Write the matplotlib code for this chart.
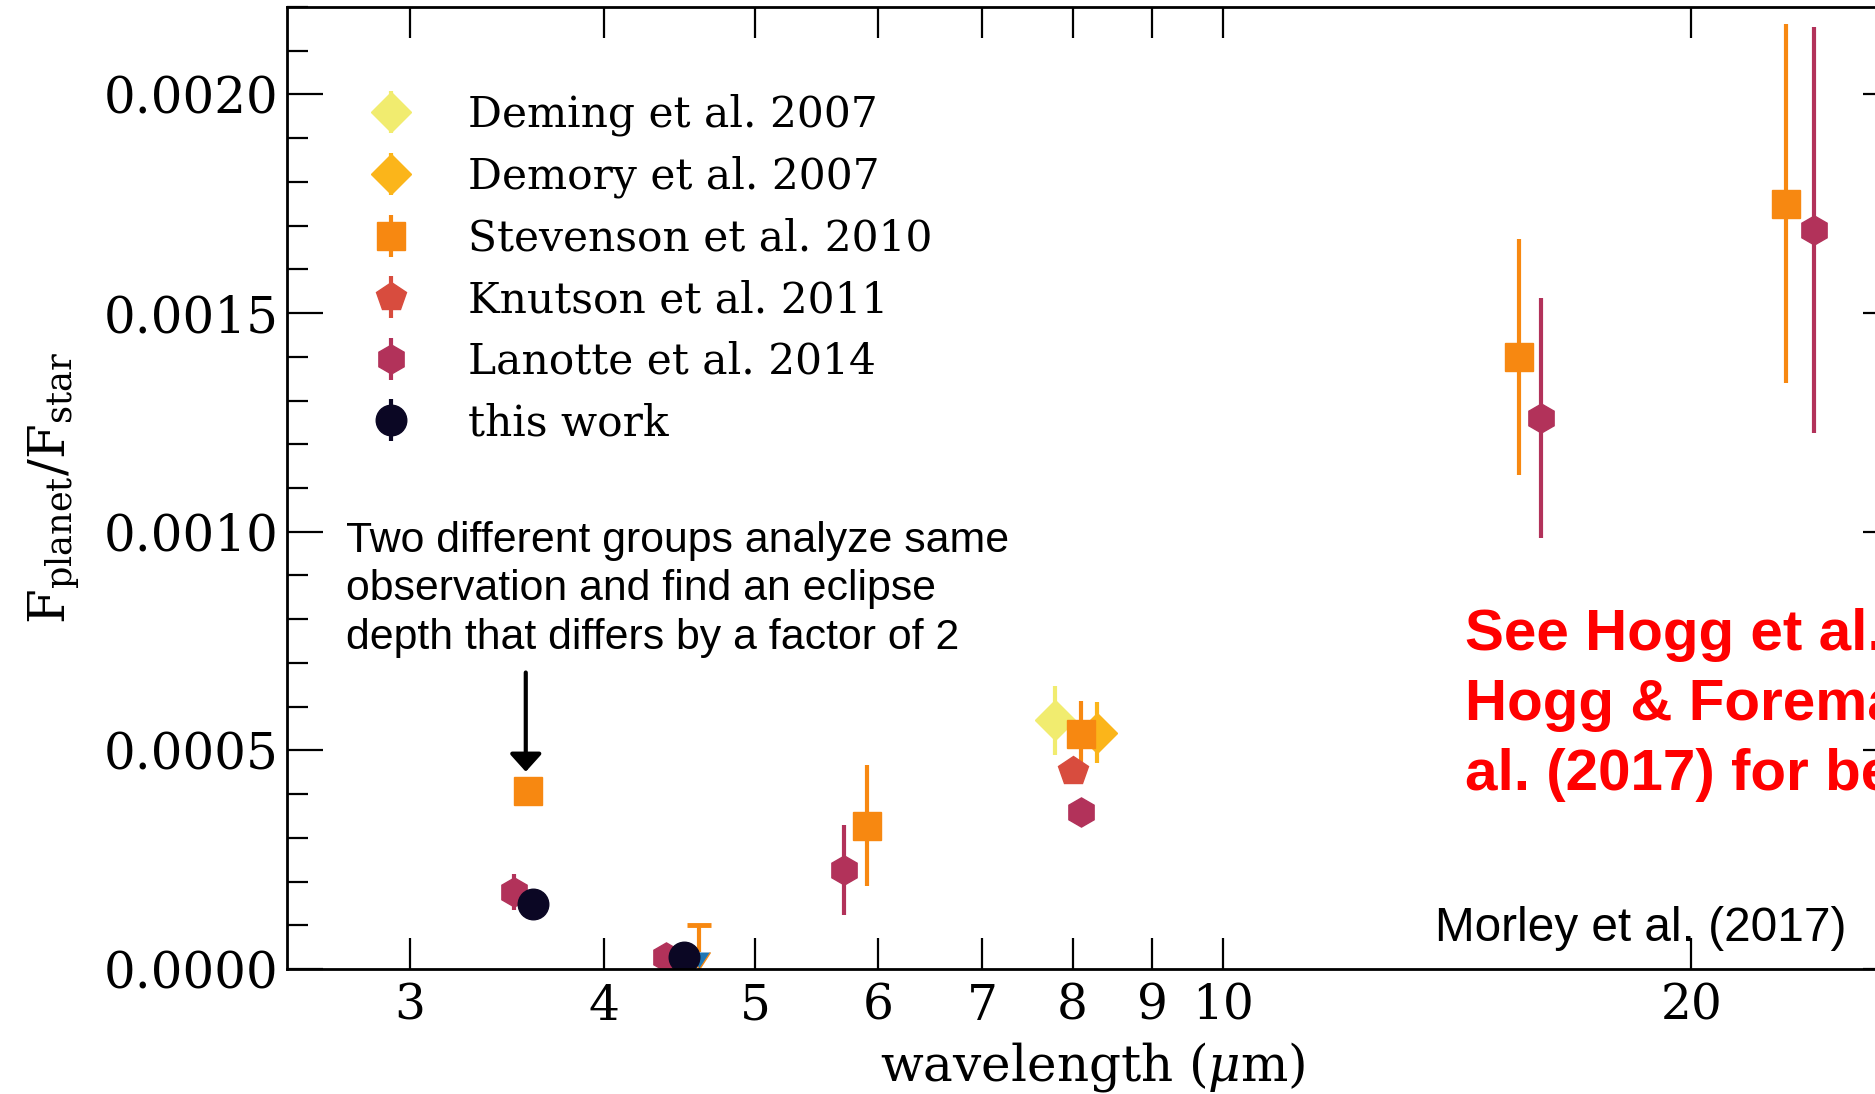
import matplotlib
matplotlib.use('Agg')
import matplotlib.pyplot as plt
from matplotlib.ticker import FixedLocator, MultipleLocator, NullLocator, FormatStrFormatter

plt.rcParams['font.family'] = 'DejaVu Serif'
plt.rcParams['mathtext.fontset'] = 'dejavuserif'

# eclipse depths of GJ 436b
deming_wl = [7.8]
deming_fp = [0.000569]
deming_err = [0.000079]

demory_wl = [8.29]
demory_fp = [0.000540]
demory_err = [0.000070]

stev_wl = [3.57, 5.90, 8.10, 15.5, 23.0]
stev_fp = [0.000408, 0.000328, 0.000538, 0.00140, 0.00175]
stev_err = [0.00003, 0.000139, 0.000075, 0.00027, 0.00041]

# Stevenson 4.5 micron upper limit
stev_lim_wl = [4.60]
stev_lim_fp = [0.000100]
stev_lim_err = [0.000061]

knut_wl = [8.0]
knut_fp = [0.000452]
knut_err = [0.00002]

lan_wl = [3.50, 4.38, 5.70, 8.10, 16.0, 24.0]
lan_fp = [0.000176, 0.000028, 0.000227, 0.000360, 0.00126, 0.00169]
lan_err = [0.000042, 0.00002, 0.000103, 0.00002, 0.000274, 0.000465]

this_wl = [3.60, 4.50]
this_fp = [0.000149, 0.000028]
this_err = [0.00001, 0.00001]

xticks = [3, 4, 5, 6, 7, 8, 9, 10, 20]

c_deming = '#f1ec6f'
c_demory = '#fbb51a'
c_stev = '#f78811'
c_knut = '#d84c3e'
c_lan = '#b2325a'
c_this = '#0b0724'

fig = plt.figure(figsize=(18.75, 10.94), dpi=100)
ax = fig.add_axes([0.1531, 0.1143, 0.8597, 0.8793])

eb = dict(elinewidth=3, capsize=0, ls='none')
ax.errorbar(deming_wl, deming_fp, yerr=deming_err, marker='D', ms=20, color=c_deming, mec=c_deming, label='Deming et al. 2007', **eb)
ax.errorbar(demory_wl, demory_fp, yerr=demory_err, marker='D', ms=20, color=c_demory, mec=c_demory, label='Demory et al. 2007', **eb)
ax.errorbar(stev_wl, stev_fp, yerr=stev_err, marker='s', ms=20, color=c_stev, mec=c_stev, label='Stevenson et al. 2010', **eb)
ax.errorbar(stev_lim_wl, stev_lim_fp, yerr=stev_lim_err, uplims=True, fmt='none', ecolor=c_stev, elinewidth=3, capsize=8)
ax.plot(stev_lim_wl, stev_lim_fp, marker='_', ms=17, mew=3.5, color=c_stev, ls='none')
ax.errorbar(knut_wl, knut_fp, yerr=knut_err, marker='p', ms=22, color=c_knut, mec=c_knut, label='Knutson et al. 2011', **eb)
ax.errorbar(lan_wl, lan_fp, yerr=lan_err, marker='h', ms=21, color=c_lan, mec=c_lan, label='Lanotte et al. 2014', **eb)
ax.errorbar(this_wl, this_fp, yerr=this_err, marker='o', ms=22, color=c_this, mec=c_this, label='this work', **eb)

ax.set_xscale('log')
ax.set_xlim(2.5, 27.2)
ax.set_ylim(0, 0.0022)
ax.xaxis.set_major_locator(FixedLocator(xticks))
ax.xaxis.set_minor_locator(NullLocator())
ax.xaxis.set_major_formatter(FormatStrFormatter('%d'))
ax.yaxis.set_major_locator(MultipleLocator(0.0005))
ax.yaxis.set_minor_locator(MultipleLocator(0.0001))
ax.yaxis.set_major_formatter(FormatStrFormatter('%.4f'))

ax.tick_params(axis='both', which='both', direction='in', top=True, right=True, width=1.6)
ax.tick_params(axis='y', which='major', length=26, labelsize=36, pad=6)
ax.tick_params(axis='y', which='minor', length=15)
ax.tick_params(axis='x', which='major', length=22, labelsize=35, pad=10)
for s in ax.spines.values():
    s.set_linewidth(2)

ax.set_xlabel(r'wavelength ($\mu$m)', fontsize=36, labelpad=7)
ax.set_ylabel(r'$\mathrm{F_{planet}/F_{star}}$', fontsize=36)
ax.yaxis.set_label_coords(-0.127, 0.5)

ax.legend(loc='upper left', bbox_to_anchor=(0.045, 0.91), frameon=False, fontsize=30.5,
          handlelength=1.5, handletextpad=1.05, labelspacing=0.46, borderpad=0, borderaxespad=0)

ax.text(2.729, 0.001025, 'Two different groups analyze same\nobservation and find an eclipse\ndepth that differs by a factor of 2',
        family='Liberation Sans', fontsize=30.8, va='top', ha='left', linespacing=1.27)
ax.annotate('', xy=(3.56, 0.000451), xytext=(3.56, 0.000678),
            arrowprops=dict(arrowstyle='-|>,head_length=0.4,head_width=0.36', color='k', lw=3,
                            mutation_scale=27, shrinkA=0, shrinkB=0))

ax.text(14.31, 0.000826, 'See Hogg et al. (2010) and\nHogg & Foreman-Mackey et\nal. (2017) for best practices',
        family='Liberation Sans', fontweight='bold', fontsize=42, color='#ff0000', va='top', ha='left',
        linespacing=1.38, clip_on=False)
ax.text(13.69, 0.000064, 'Morley et al. (2017)', family='Liberation Sans', fontsize=34.4,
        va='baseline', ha='left')

fig.savefig('out.png', dpi=100)
